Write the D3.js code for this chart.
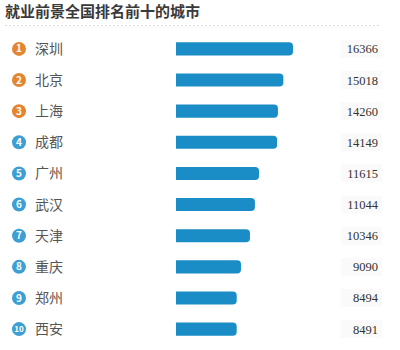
<!DOCTYPE html>
<html>
<head>
<meta charset="utf-8">
<script src="https://cdn.jsdelivr.net/npm/d3@7"></script>
<style>
  body { margin: 0; background: #fff; }
  svg { display: block; font-family: "Noto Sans CJK SC", sans-serif; }
</style>
</head>
<body>
<div id="chart"></div>
<script>
var title = "就业前景全国排名前十的城市";
var cities = ["深圳", "北京", "上海", "成都", "广州", "武汉", "天津", "重庆", "郑州", "西安"];
var jobs = [16366, 15018, 14260, 14149, 11615, 11044, 10346, 9090, 8494, 8491];

var width = 400, height = 350;
var barLeft = 176;

var svg = d3.select("#chart").append("svg")
    .attr("width", width)
    .attr("height", height);

svg.append("text")
    .attr("x", 5)
    .attr("y", 17)
    .style("font-size", "15px")
    .style("font-weight", "bold")
    .style("fill", "#3a3a3a")
    .text(title);

svg.append("line")
    .attr("x1", 5).attr("x2", 380)
    .attr("y1", 25.5).attr("y2", 25.5)
    .style("stroke", "#dcdcdc")
    .style("stroke-dasharray", "2,2");

var data = cities.map(function(c, i){
  return {rank: i + 1, city: c, value: jobs[i]};
});

var y = d3.scaleBand()
    .domain(data.map(function(d){ return d.rank; }))
    .range([33, 345])
    .paddingInner(0.58)
    .paddingOuter(0.3);

var x = d3.scaleLinear()
    .domain([0, 16366])
    .range([0, 117]);

var row = svg.selectAll(".row")
    .data(data)
  .enter().append("g")
    .attr("class", "row")
    .attr("transform", function(d){ return "translate(0," + (y(d.rank) + y.bandwidth() / 2) + ")"; });

// rank badge
row.append("circle")
    .attr("cx", 19)
    .attr("cy", 0)
    .attr("r", 7)
    .style("fill", function(d){ return d.rank <= 3 ? "#e5862f" : "#3d9fd3"; });

row.append("text")
    .attr("x", 19)
    .attr("y", 0)
    .attr("dy", "0.36em")
    .style("text-anchor", "middle")
    .style("font-size", function(d){ return d.rank < 10 ? "10px" : "8px"; })
    .style("font-weight", "bold")
    .style("fill", "#fff")
    .text(function(d){ return d.rank; });

row.append("text")
    .attr("x", 35)
    .attr("y", 0)
    .attr("dy", "0.36em")
    .style("font-size", "14px")
    .style("fill", "#555")
    .text(function(d){ return d.city; });

// bar: square on the left, rounded on the right
row.append("path")
    .attr("d", function(d){
      var w = x(d.value), h = y.bandwidth(), r = 4;
      var x0 = barLeft, y0 = -h / 2;
      return "M" + x0 + "," + y0 +
        "H" + (x0 + w - r) +
        "A" + r + "," + r + " 0 0 1 " + (x0 + w) + "," + (y0 + r) +
        "V" + (y0 + h - r) +
        "A" + r + "," + r + " 0 0 1 " + (x0 + w - r) + "," + (y0 + h) +
        "H" + x0 + "Z";
    })
    .style("fill", "#1b8dc6");

row.append("rect")
    .attr("x", 341)
    .attr("y", -9)
    .attr("width", 41)
    .attr("height", 18)
    .style("fill", "#fafafa");

row.append("text")
    .attr("x", 378)
    .attr("y", 0)
    .attr("dy", "0.36em")
    .style("text-anchor", "end")
    .style("font-family", "'Liberation Serif', serif")
    .style("font-size", "12.5px")
    .style("fill", "#333")
    .text(function(d){ return d.value; });
</script>
</body>
</html>
